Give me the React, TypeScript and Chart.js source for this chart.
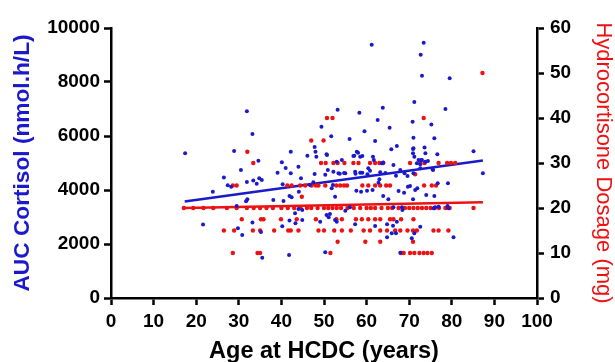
import React, { useEffect, useRef } from "react";
import { Chart, registerables } from "chart.js";

Chart.register(...registerables);

// Blue series: AUC Cortisol (nmol.h/L) vs age at HCDC (years)
const blueAges = [
  61.2, 73.4, 72.7, 73.0, 79.5, 31.9, 53.2, 58.3, 63.8, 71.2, 78.5, 62.6, 70.8, 75.2, 49.4, 65.4,
  59.5, 51.7, 56.0, 75.9, 71.0, 62.0, 47.8, 73.6, 67.1, 65.8, 70.9, 57.7, 85.1, 46.1, 50.7, 57.1,
  58.5, 61.5, 70.9, 71.2, 72.8, 74.4, 76.6, 50.9, 52.2, 53.4, 55.0, 57.3, 58.5, 60.4, 60.8, 63.6,
  63.9, 66.3, 67.9, 68.9, 71.8, 72.6, 75.5, 87.3, 33.2, 17.4, 28.9, 34.6, 30.5, 26.5, 40.1, 41.0,
  39.1, 42.2, 42.2, 44.0, 34.8, 33.4, 35.4, 23.9, 27.4, 28.2, 31.9, 31.7, 29.5, 21.6, 29.8, 30.8,
  48.0, 48.2, 50.6, 47.8, 50.3, 40.3, 47.5, 46.7, 44.6, 44.1, 41.9, 42.4, 38.1, 40.5, 44.0, 44.9,
  43.2, 50.6, 51.1, 33.2, 41.9, 44.9, 49.1, 40.2, 35.2, 43.3, 35.5, 41.8, 50.3, 56.9, 58.0, 59.0,
  61.7, 54.2, 53.0, 53.7, 54.7, 57.4, 59.0, 60.2, 63.2, 64.4, 66.9, 69.6, 62.8, 63.0, 52.1, 51.8,
  52.6, 57.6, 58.7, 60.1, 61.4, 63.9, 65.1, 67.5, 68.8, 69.7, 55.0, 56.1, 51.4, 52.6, 53.0, 66.3,
  68.3, 68.4, 57.3, 62.0, 64.8, 66.2, 67.1, 64.8, 65.9, 66.9, 67.9, 71.0, 73.8, 72.2, 73.0, 73.8,
  75.6, 71.0, 72.6, 70.2, 71.4, 71.9, 74.0, 75.9, 76.7, 79.1, 70.9, 75.7, 76.1, 76.9, 79.0, 79.2,
  72.6, 71.2, 70.6, 80.4, 34.2, 32.0,
];
const blueAuc = [
  9380, 9456, 9010, 8234, 8137, 6915, 6975, 6864, 7049, 7260, 7000, 6590, 6530, 6430, 6340, 6310,
  6180, 5990, 5890, 5915, 5938, 5815, 5590, 5570, 5630, 5507, 5519, 5420, 5434, 5271, 5300, 5270,
  5234, 5234, 5360, 5234, 5112, 5075, 5323, 4741, 4679, 4618, 4618, 4679, 4642, 4803, 4716, 4989,
  5014, 4926, 4741, 4618, 4989, 4952, 4766, 4618, 6074, 5360, 5440, 5080, 4741, 4460, 5030, 4815,
  4642, 5419, 4618, 4864, 4432, 4350, 4370, 3938, 4173, 4123, 4296, 3580, 3407, 2720, 2581, 2330,
  5419, 5234, 5323, 4593, 4568, 4210, 4284, 4186, 4432, 3938, 3778, 3728, 3630, 3593, 3296, 3260,
  3136, 3074, 2989, 2800, 2870, 2889, 2826, 2660, 2445, 2767, 1490, 1593, 1690, 5260, 5382, 5260,
  5112, 5112, 5050, 4600, 4630, 4600, 4642, 4580, 4655, 4630, 4531, 4519, 4272, 4395, 4186, 4062,
  3753, 3975, 3938, 3975, 4000, 3778, 3655, 3963, 3901, 4123, 3234, 3359, 3111, 2889, 2826, 3359,
  3359, 3260, 2730, 2667, 2730, 2679, 2826, 2248, 2396, 2396, 1678, 5545, 5360, 5112, 5112, 5050,
  4741, 4618, 4803, 4148, 4000, 4062, 3815, 3778, 4247, 4247, 3655, 3322, 3359, 3383, 3407, 3322,
  2641, 2396, 2211, 2248, 4234, 3655,
];

// Red series: Hydrocortisone dosage (mg) vs age at HCDC (years)
const redAges = [
  87.2,
  50.7, 52.0, 73.4,
  47.0, 49.9,
  32.0,
  33.4, 49.3, 50.4, 52.2, 53.2, 54.8, 56.9, 58.1, 60.8, 62.0, 63.0, 63.9, 70.2, 72.6, 73.6, 76.9, 78.9, 79.8, 80.8,
  71.4,
  28.6, 29.5, 41.4, 42.4, 44.4, 45.6, 47.1, 48.1, 48.7, 50.3, 52.9, 53.8, 54.7, 55.4, 59.0, 60.4, 62.0, 63.2, 64.6, 65.5, 73.5, 75.3, 76.3,
  44.8,
  17.1, 19.3, 21.7, 24.0, 27.2, 29.5, 31.9, 33.5, 35.0, 36.5, 38.0, 40.0, 41.5, 43.0, 44.5, 46.0, 47.0, 48.5, 50.0, 51.0, 52.0, 53.0, 54.0, 55.5, 57.0, 58.5, 60.0, 61.0, 62.0, 63.5, 65.0, 66.0, 67.5, 69.0, 70.0, 71.0, 72.0, 73.0, 74.0, 75.0, 76.0, 77.0, 78.5, 79.5, 85.1,
  30.7, 35.2, 35.8, 39.9, 43.6, 48.1, 52.9, 54.2, 57.5, 58.9, 60.4, 62.0, 63.2, 65.5, 66.3, 68.1, 71.0,
  26.5, 28.9, 33.3, 35.0, 38.3, 41.6, 42.2, 44.0, 48.7, 50.0, 52.4, 54.2, 56.3, 59.3, 60.8, 63.2, 64.8, 66.7, 67.9, 69.6, 70.9, 71.8, 75.7, 76.9, 79.2,
  53.2, 59.7, 63.2, 70.9,
  28.6, 34.4, 35.0, 51.5, 68.1, 68.7, 70.2, 71.2, 72.4, 73.4, 74.3, 75.3,
];
const redDose = [
  50,
  40, 40, 40,
  35, 35,
  32.5,
  30, 30, 30, 30, 30, 30, 30, 30, 30, 30, 30, 30, 30, 30, 30, 30, 30, 30, 30,
  27.5,
  25, 25, 25, 25, 25, 25, 25, 25, 25, 25, 25, 25, 25, 25, 25, 25, 25, 25, 25, 25, 25, 25, 25,
  22.5,
  20, 20, 20, 20, 20, 20, 20, 20, 20, 20, 20, 20, 20, 20, 20, 20, 20, 20, 20, 20, 20, 20, 20, 20, 20, 20, 20, 20, 20, 20, 20, 20, 20, 20, 20, 20, 20, 20, 20, 20, 20, 20, 20, 20, 20,
  17.5, 17.5, 17.5, 17.5, 17.5, 17.5, 17.5, 17.5, 17.5, 17.5, 17.5, 17.5, 17.5, 17.5, 17.5, 17.5, 17.5,
  15, 15, 15, 15, 15, 15, 15, 15, 15, 15, 15, 15, 15, 15, 15, 15, 15, 15, 15, 15, 15, 15, 15, 15, 15,
  12.5, 12.5, 12.5, 12.5,
  10, 10, 10, 10, 10, 10, 10, 10, 10, 10, 10, 10,
];

// Linear fit lines (end points)
const fitAges = [17.3, 87.3];
const blueFit = [3570, 5090];
const redFit = [20.0, 21.3];

const BLUE = "#1a1acc";
const RED = "#ee1111";
const FONT = "Arial, 'Liberation Sans', sans-serif";

export default function App() {
  const ref = useRef<HTMLCanvasElement | null>(null);

  useEffect(() => {
    if (!ref.current) return;
    const pts = (xs: number[], ys: number[]) => xs.map((x, i) => ({ x, y: ys[i] }));
    const axisGrid = {
      drawOnChartArea: false,
      drawTicks: true,
      tickLength: 7,
      tickWidth: 2.5,
      tickColor: "#000",
    };
    const axisBorder = { display: true, color: "#000", width: 2.5 };
    const tickFont = { family: FONT, size: 19, weight: "bold" as const };
    const plain = (v: number | string) => String(v);
    const chart = new Chart(ref.current, {
      type: "scatter",
      data: {
        datasets: [
          {
            label: "AUC",
            data: pts(blueAges, blueAuc),
            yAxisID: "y",
            backgroundColor: BLUE,
            borderColor: BLUE,
            pointRadius: 2,
            borderWidth: 0,
          },
          {
            label: "Dose",
            data: pts(redAges, redDose),
            yAxisID: "y2",
            backgroundColor: RED,
            borderColor: RED,
            pointRadius: 2.2,
            borderWidth: 0,
          },
          {
            label: "AUC fit",
            type: "line",
            data: pts(fitAges, blueFit),
            yAxisID: "y",
            borderColor: BLUE,
            borderWidth: 2.5,
            pointRadius: 0,
            fill: false,
          },
          {
            label: "Dose fit",
            type: "line",
            data: pts(fitAges, redFit),
            yAxisID: "y2",
            borderColor: RED,
            borderWidth: 2.5,
            pointRadius: 0,
            fill: false,
          },
        ],
      },
      options: {
        responsive: false,
        animation: false,
        layout: { padding: { top: 28, left: 0, right: 0, bottom: 0 } },
        plugins: { legend: { display: false }, tooltip: { enabled: false } },
        scales: {
          x: {
            type: "linear",
            min: 0,
            max: 100,
            ticks: { stepSize: 10, color: "#000", font: tickFont, padding: 5, callback: plain },
            grid: axisGrid,
            border: axisBorder,
            title: {
              display: true,
              text: "Age at HCDC (years)",
              color: "#000",
              font: { family: FONT, size: 23.5, weight: "bold" },
              padding: { top: 0, bottom: -4 },
            },
            afterFit: (s: any) => {
              s.height = 64;
            },
          },
          y: {
            type: "linear",
            position: "left",
            min: 0,
            max: 10000,
            ticks: { stepSize: 2000, color: "#000", font: tickFont, padding: 4, callback: plain },
            grid: axisGrid,
            border: axisBorder,
            title: {
              display: true,
              text: "AUC Cortisol (nmol.h/L)",
              color: BLUE,
              font: { family: FONT, size: 22.7, weight: "bold" },
              padding: { top: 9, bottom: 0 },
            },
            afterFit: (s: any) => {
              s.width = 111;
            },
          },
          y2: {
            type: "linear",
            position: "right",
            min: 0,
            max: 60,
            ticks: { stepSize: 10, color: "#000", font: tickFont, padding: 6, callback: plain },
            grid: axisGrid,
            border: axisBorder,
            title: {
              display: true,
              text: "Hydrocortisone Dosage (mg)",
              color: RED,
              font: { family: FONT, size: 22 },
              padding: { top: -1, bottom: 0 },
            },
            afterFit: (s: any) => {
              s.width = 78;
            },
          },
        },
      },
    });
    return () => chart.destroy();
  }, []);

  return (
    <div style={{ position: "absolute", left: 0, top: 0, width: 615, height: 362, background: "#fff" }}>
      <canvas ref={ref} width={615} height={362} />
    </div>
  );
}
